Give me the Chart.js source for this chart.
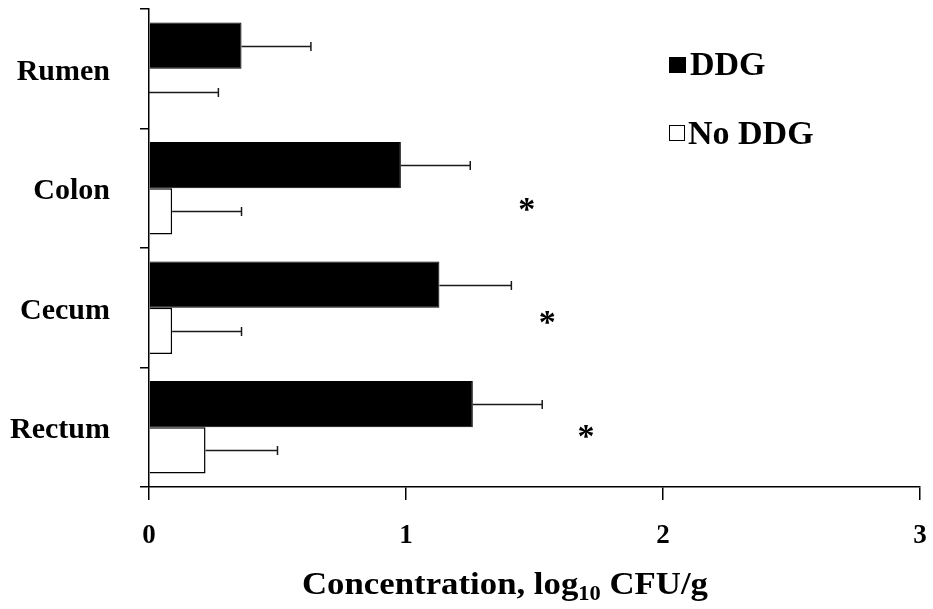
<!DOCTYPE html>
<html>
<head>
<meta charset="utf-8">
<title>Concentration by gut site</title>
<script src="https://cdn.jsdelivr.net/npm/chart.js@4.4.1/dist/chart.umd.min.js"></script>
<style>
  html, body { margin: 0; padding: 0; background: #fff; }
  #wrap { position: relative; width: 933px; height: 609px; }
</style>
</head>
<body>
<div id="wrap"><canvas id="chart"></canvas></div>
<script>
// Gut sites, top to bottom
const categories = ['Rumen', 'Colon', 'Cecum', 'Rectum'];

// Mean concentration (log10 CFU/g) and error, cattle fed DDG
const ddgMeans = [0.36, 0.98, 1.13, 1.26];
const ddgErrors = [0.27, 0.27, 0.28, 0.27];

// Mean concentration (log10 CFU/g) and error, cattle fed no DDG
const noDdgMeans = [0, 0.09, 0.09, 0.22];
const noDdgErrors = [0.27, 0.27, 0.27, 0.28];

// Sites with a significant diet difference
const significant = [false, true, true, true];

// Value axis ticks
const xTicks = [0, 1, 2, 3];

const SERIF = '"Liberation Serif", "Times New Roman", Times, serif';

// Whiskers drawn from each bar's end through the value scale
const errorBars = {
  id: 'errorBars',
  afterDatasetsDraw(chart) {
    const ctx = chart.ctx;
    const xs = chart.scales.x;
    ctx.save();
    ctx.strokeStyle = '#1a1a1a';
    ctx.lineWidth = 1.5;
    chart.data.datasets.forEach((ds, i) => {
      const meta = chart.getDatasetMeta(i);
      meta.data.forEach((bar, j) => {
        const m = ds.data[j];
        const e = ds.errors[j];
        const x0 = xs.getPixelForValue(m);
        const x1 = xs.getPixelForValue(m + e);
        const y = Math.round(bar.y) + 0.5;
        ctx.beginPath();
        ctx.moveTo(x0, y);
        ctx.lineTo(x1, y);
        ctx.moveTo(x1, y - 4.5);
        ctx.lineTo(x1, y + 4.5);
        ctx.stroke();
      });
    });
    ctx.restore();
  }
};

// Asterisks marking significant sites, placed on the value scale
const starMarks = {
  id: 'starMarks',
  afterDatasetsDraw(chart) {
    const ctx = chart.ctx;
    const xs = chart.scales.x, ys = chart.scales.y;
    const starValue = [null, 1.47, 1.55, 1.70];
    const starShift = [0, 16, 10, 4];
    ctx.save();
    ctx.fillStyle = '#000';
    ctx.font = 'bold 34px ' + SERIF;
    ctx.textAlign = 'center';
    ctx.textBaseline = 'alphabetic';
    const mt = ctx.measureText('*');
    const mid = (mt.actualBoundingBoxAscent - mt.actualBoundingBoxDescent) / 2;
    significant.forEach((s, j) => {
      if (!s) return;
      const x = xs.getPixelForValue(starValue[j]);
      const y = ys.getPixelForValue(j) + starShift[j];
      ctx.fillText('*', x, y + mid);
    });
    ctx.restore();
  }
};

// Legend inside the plot and the axis title with a subscript
const decorations = {
  id: 'decorations',
  afterDraw(chart) {
    const ctx = chart.ctx;
    ctx.save();
    // legend
    ctx.font = 'bold 34px ' + SERIF;
    ctx.textBaseline = 'alphabetic';
    ctx.textAlign = 'left';
    ctx.fillStyle = '#000';
    ctx.fillRect(669, 57, 17, 16);
    ctx.fillText(chart.data.datasets[0].label, 690, 75);
    ctx.strokeStyle = '#000';
    ctx.lineWidth = 1;
    ctx.strokeRect(669.5, 125.5, 15, 15);
    ctx.fillText(chart.data.datasets[1].label, 688, 144);

    // x-axis title: Concentration, log10 CFU/g
    const main = 'bold 31px ' + SERIF;
    const sub = 'bold 20px ' + SERIF;
    const parts = [
      { t: 'Concentration, log', f: main, dy: 0 },
      { t: '10', f: sub, dy: 6 },
      { t: ' CFU/g', f: main, dy: 0 }
    ];
    let total = 0;
    parts.forEach(p => { ctx.font = p.f; p.w = ctx.measureText(p.t).width; total += p.w; });
    const targetW = 406;
    const left = 302;
    const base = 594;
    const k = targetW / total;
    ctx.translate(left, base);
    ctx.scale(k, 1);
    let x = 0;
    parts.forEach(p => {
      ctx.font = p.f;
      ctx.fillText(p.t, x, p.dy);
      x += p.w;
    });
    ctx.restore();
  }
};

new Chart(document.getElementById('chart'), {
  type: 'bar',
  data: {
    labels: categories,
    datasets: [
      {
        label: 'DDG',
        data: ddgMeans,
        errors: ddgErrors,
        backgroundColor: '#000',
        borderColor: '#000',
        borderWidth: 1
      },
      {
        label: 'No DDG',
        data: noDdgMeans,
        errors: noDdgErrors,
        backgroundColor: '#fff',
        borderColor: '#000',
        borderWidth: 1.5
      }
    ]
  },
  options: {
    indexAxis: 'y',
    responsive: true,
    maintainAspectRatio: false,
    animation: false,
    devicePixelRatio: 1,
    datasets: {
      bar: { categoryPercentage: 0.775, barPercentage: 1.0 }
    },
    layout: { autoPadding: false, padding: { top: 9, right: 13, left: 0, bottom: 0 } },
    plugins: {
      legend: { display: false },
      tooltip: { enabled: false }
    },
    scales: {
      x: {
        min: 0,
        max: 3,
        afterBuildTicks(scale) { scale.ticks = xTicks.map(v => ({ value: v })); },
        afterFit(scale) {
          scale.height = 609 - 487;
          scale.paddingLeft = 0; scale.paddingRight = 0;
        },
        border: { display: true, color: '#000', width: 1.5 },
        grid: { display: true, drawOnChartArea: false, drawTicks: true, tickLength: 13, color: '#000', lineWidth: 1.5 },
        ticks: {
          color: '#000',
          padding: 20,
          font: { family: SERIF, size: 27, weight: 'bold' }
        }
      },
      y: {
        afterFit(scale) {
          scale.width = 149;
          scale.paddingTop = 0; scale.paddingBottom = 0;
        },
        border: { display: true, color: '#000', width: 1.5 },
        grid: { display: true, drawOnChartArea: false, drawTicks: true, tickLength: 9, color: '#000', lineWidth: 1.5, offset: true },
        ticks: {
          color: '#000',
          padding: 30,
          labelOffset: 3,
          font: { family: SERIF, size: 30, weight: 'bold' }
        }
      }
    }
  },
  plugins: [errorBars, starMarks, decorations]
});
</script>
</body>
</html>
